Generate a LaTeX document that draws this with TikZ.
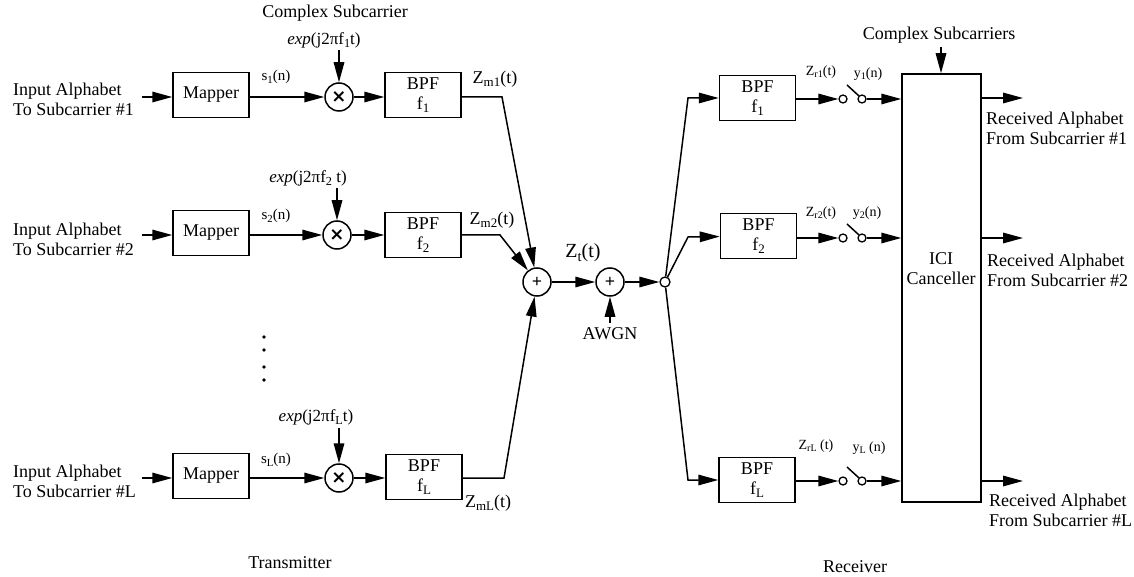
\documentclass[tikz,border=0pt]{standalone}
\usepackage{fontspec}
\usepackage{graphicx}
\setmainfont{Liberation Serif}
\newfontfamily\symfont{DejaVu Sans}
\newcommand\dn[1]{\raisebox{-0.4ex}{\scalebox{0.72}{#1}}}
\usetikzlibrary{arrows.meta}
\begin{document}
\begin{tikzpicture}[x=1pt,y=-1pt,
  every node/.style={font=\fontsize{18}{20}\selectfont, inner sep=0pt},
  blk/.style={draw, line width=1.5pt, minimum width=76pt, minimum height=45pt, align=center},
  mixer/.style={draw, circle, line width=1.5pt, minimum size=28pt},
  dotc/.style={draw, circle, line width=1.3pt, minimum size=10pt},
  swc/.style={draw, circle, line width=1.3pt, minimum size=8pt},
  sig/.style={line width=1.5pt},
  arr/.style={sig, -{Triangle[length=20pt,width=10.5pt]}},
  lbl/.style={font=\fontsize{17}{19}\selectfont},
  sml/.style={font=\fontsize{15}{15}\selectfont},
  smaller/.style={font=\fontsize{14}{14}\selectfont},
  side/.style={align=left, anchor=west},
]
\useasboundingbox (0,0) rectangle (1134,577);

% ---------------- Transmitter ----------------
\node (cs) at (335,13) {Complex Subcarrier};

% row 1
\node[side] (in1) at (13,99) {Input Alphabet\\To Subcarrier \#1};
\coordinate (i1) at (142,97);
\node[blk] (map1) at (211,95) {Mapper};
\node[mixer] (x1) at (339,97) {{\symfont\bfseries ×}};
\node[blk] (b1) at (423,95) {BPF\\f\dn{1}};
\node[lbl] (e1) at (324,40) {\textit{exp}(j2πf\dn{1}t)};
\coordinate (ea1) at (339,50);
\node[sml] (sl1) at (276,77) {s\dn{1}(n)};
\node (zm1) at (495,79) {Z\dn{m1}(t)};
\coordinate (k1) at (502,97);

% row 2
\node[side] (in2) at (13,239) {Input Alphabet\\To Subcarrier \#2};
\coordinate (i2) at (142,235);
\node[blk] (map2) at (211,233) {Mapper};
\node[mixer] (x2) at (337,235) {{\symfont\bfseries ×}};
\node[blk] (b2) at (423,235) {BPF\\f\dn{2}};
\node[lbl] (e2) at (308,178) {\textit{exp}(j2πf\dn{2} t)};
\coordinate (ea2) at (337,188);
\node[sml] (sl2) at (276,216) {s\dn{2}(n)};
\node (zm2) at (492,220) {Z\dn{m2}(t)};
\coordinate (k2) at (500,235);

% dots
\foreach \yy in {337,350,367,380} \fill (264,\yy) circle (1.9);

% row L
\node[side] (inL) at (13,481) {Input Alphabet\\To Subcarrier \#L};
\coordinate (iL) at (142,478);
\node[blk] (mapL) at (211,476) {Mapper};
\node[mixer] (xL) at (339,478) {{\symfont\bfseries ×}};
\node[blk] (bL) at (424,477) {BPF\\f\dn{L}};
\node[lbl] (eL) at (316,417) {\textit{exp}(j2πf\dn{L}t)};
\coordinate (eaL) at (339,428);
\node[sml] (slL) at (276,460) {s\dn{L}(n)};
\node (zmL) at (488,503) {Z\dn{mL}(t)};
\coordinate (kL) at (504,478);

% transmitter connectors
\foreach \r in {1,2,L} {
  \draw[arr] (i\r) -- (i\r -| map\r.west);
  \draw[arr] (map\r.east |- x\r) -- (x\r);
  \draw[arr] (x\r) -- (x\r -| b\r.west);
  \draw[arr] (ea\r) -- (x\r);
}

% summation
\node[mixer] (s1) at (537,282) {\textbf{+}};
\node[mixer] (s2) at (610,282) {\textbf{+}};
\draw[arr] (b1.east |- k1) -- (k1) -- (s1);
\draw[arr] (b2.east |- k2) -- (k2) -- (s1);
\draw[arr] (bL.east |- kL) -- (kL) -- (s1);
\node[font=\fontsize{20}{20}\selectfont] (zt) at (583,253) {Z\dn{t}(t)};
\draw[arr] (s1) -- (s2);
\node (awgn) at (610,334) {AWGN};
\coordinate (aw) at (610,323);
\draw[arr] (aw) -- (s2);
\node[dotc] (j) at (665,282) {};
\draw[arr] (s2) -- (j);

\node (tx) at (290,563) {Transmitter};

% ---------------- Receiver ----------------
\node[draw, line width=1.5pt, minimum width=79pt, minimum height=428pt] (ici) at (941.5,288) {};
\node[align=center] (icit) at (941,269) {ICI\\Canceller};
\node (css) at (939,35) {Complex Subcarriers};
\coordinate (ca) at (941,47);
\draw[arr] (ca) -- (ici.north -| ca);

% receiver rows
\coordinate (rk1) at (688,98);
\coordinate (rk2) at (688,237);
\coordinate (rkL) at (688,480);
\node[blk] (r1) at (757.5,98) {BPF\\f\dn{1}};
\node[blk] (r2) at (758.5,236) {BPF\\f\dn{2}};
\node[blk] (rL) at (757,480) {BPF\\f\dn{L}};

\node[swc] (sa1) at (843,99) {};
\node[swc] (sb1) at (862,99) {};
\node[swc] (sa2) at (843,238) {};
\node[swc] (sb2) at (862,238) {};
\node[swc] (saL) at (843,481) {};
\node[swc] (sbL) at (862,481) {};
\coordinate (lv1) at (847,85);
\coordinate (lv2) at (847,224);
\coordinate (lvL) at (847,467);

\node[smaller] (zr1) at (821,72) {Z\dn{r1}(t)};
\node[smaller] (y1) at (868,74) {y\dn{1}(n)};
\node[smaller] (zr2) at (821,213) {Z\dn{r2}(t)};
\node[smaller] (y2) at (867,213) {y\dn{2}(n)};
\node[smaller] (zrL) at (816,446) {Z\dn{rL} (t)};
\node[smaller] (yL) at (869,448) {y\dn{L} (n)};

\coordinate (o1) at (1023,98);
\coordinate (o2) at (1023,238);
\coordinate (oL) at (1023,481);

\foreach \r in {1,2,L} {
  \draw[arr] (j) -- (rk\r) -- (r\r);
  \draw[arr] (r\r.east |- sa\r) -- (sa\r);
  \draw[sig] (lv\r) -- (sb\r.135);
  \draw[arr] (sb\r) -- (ici.west |- sb\r);
  \draw[arr] (ici.east |- o\r) -- (o\r);
}

\node[side] (out1) at (986,128) {Received Alphabet\\From Subcarrier \#1};
\node[side] (out2) at (987,270) {Received Alphabet\\From Subcarrier \#2};
\node[side] (outL) at (989,510) {Received Alphabet\\From Subcarrier \#L};

\node (rx) at (855,567) {Receiver};
\end{tikzpicture}
\end{document}
